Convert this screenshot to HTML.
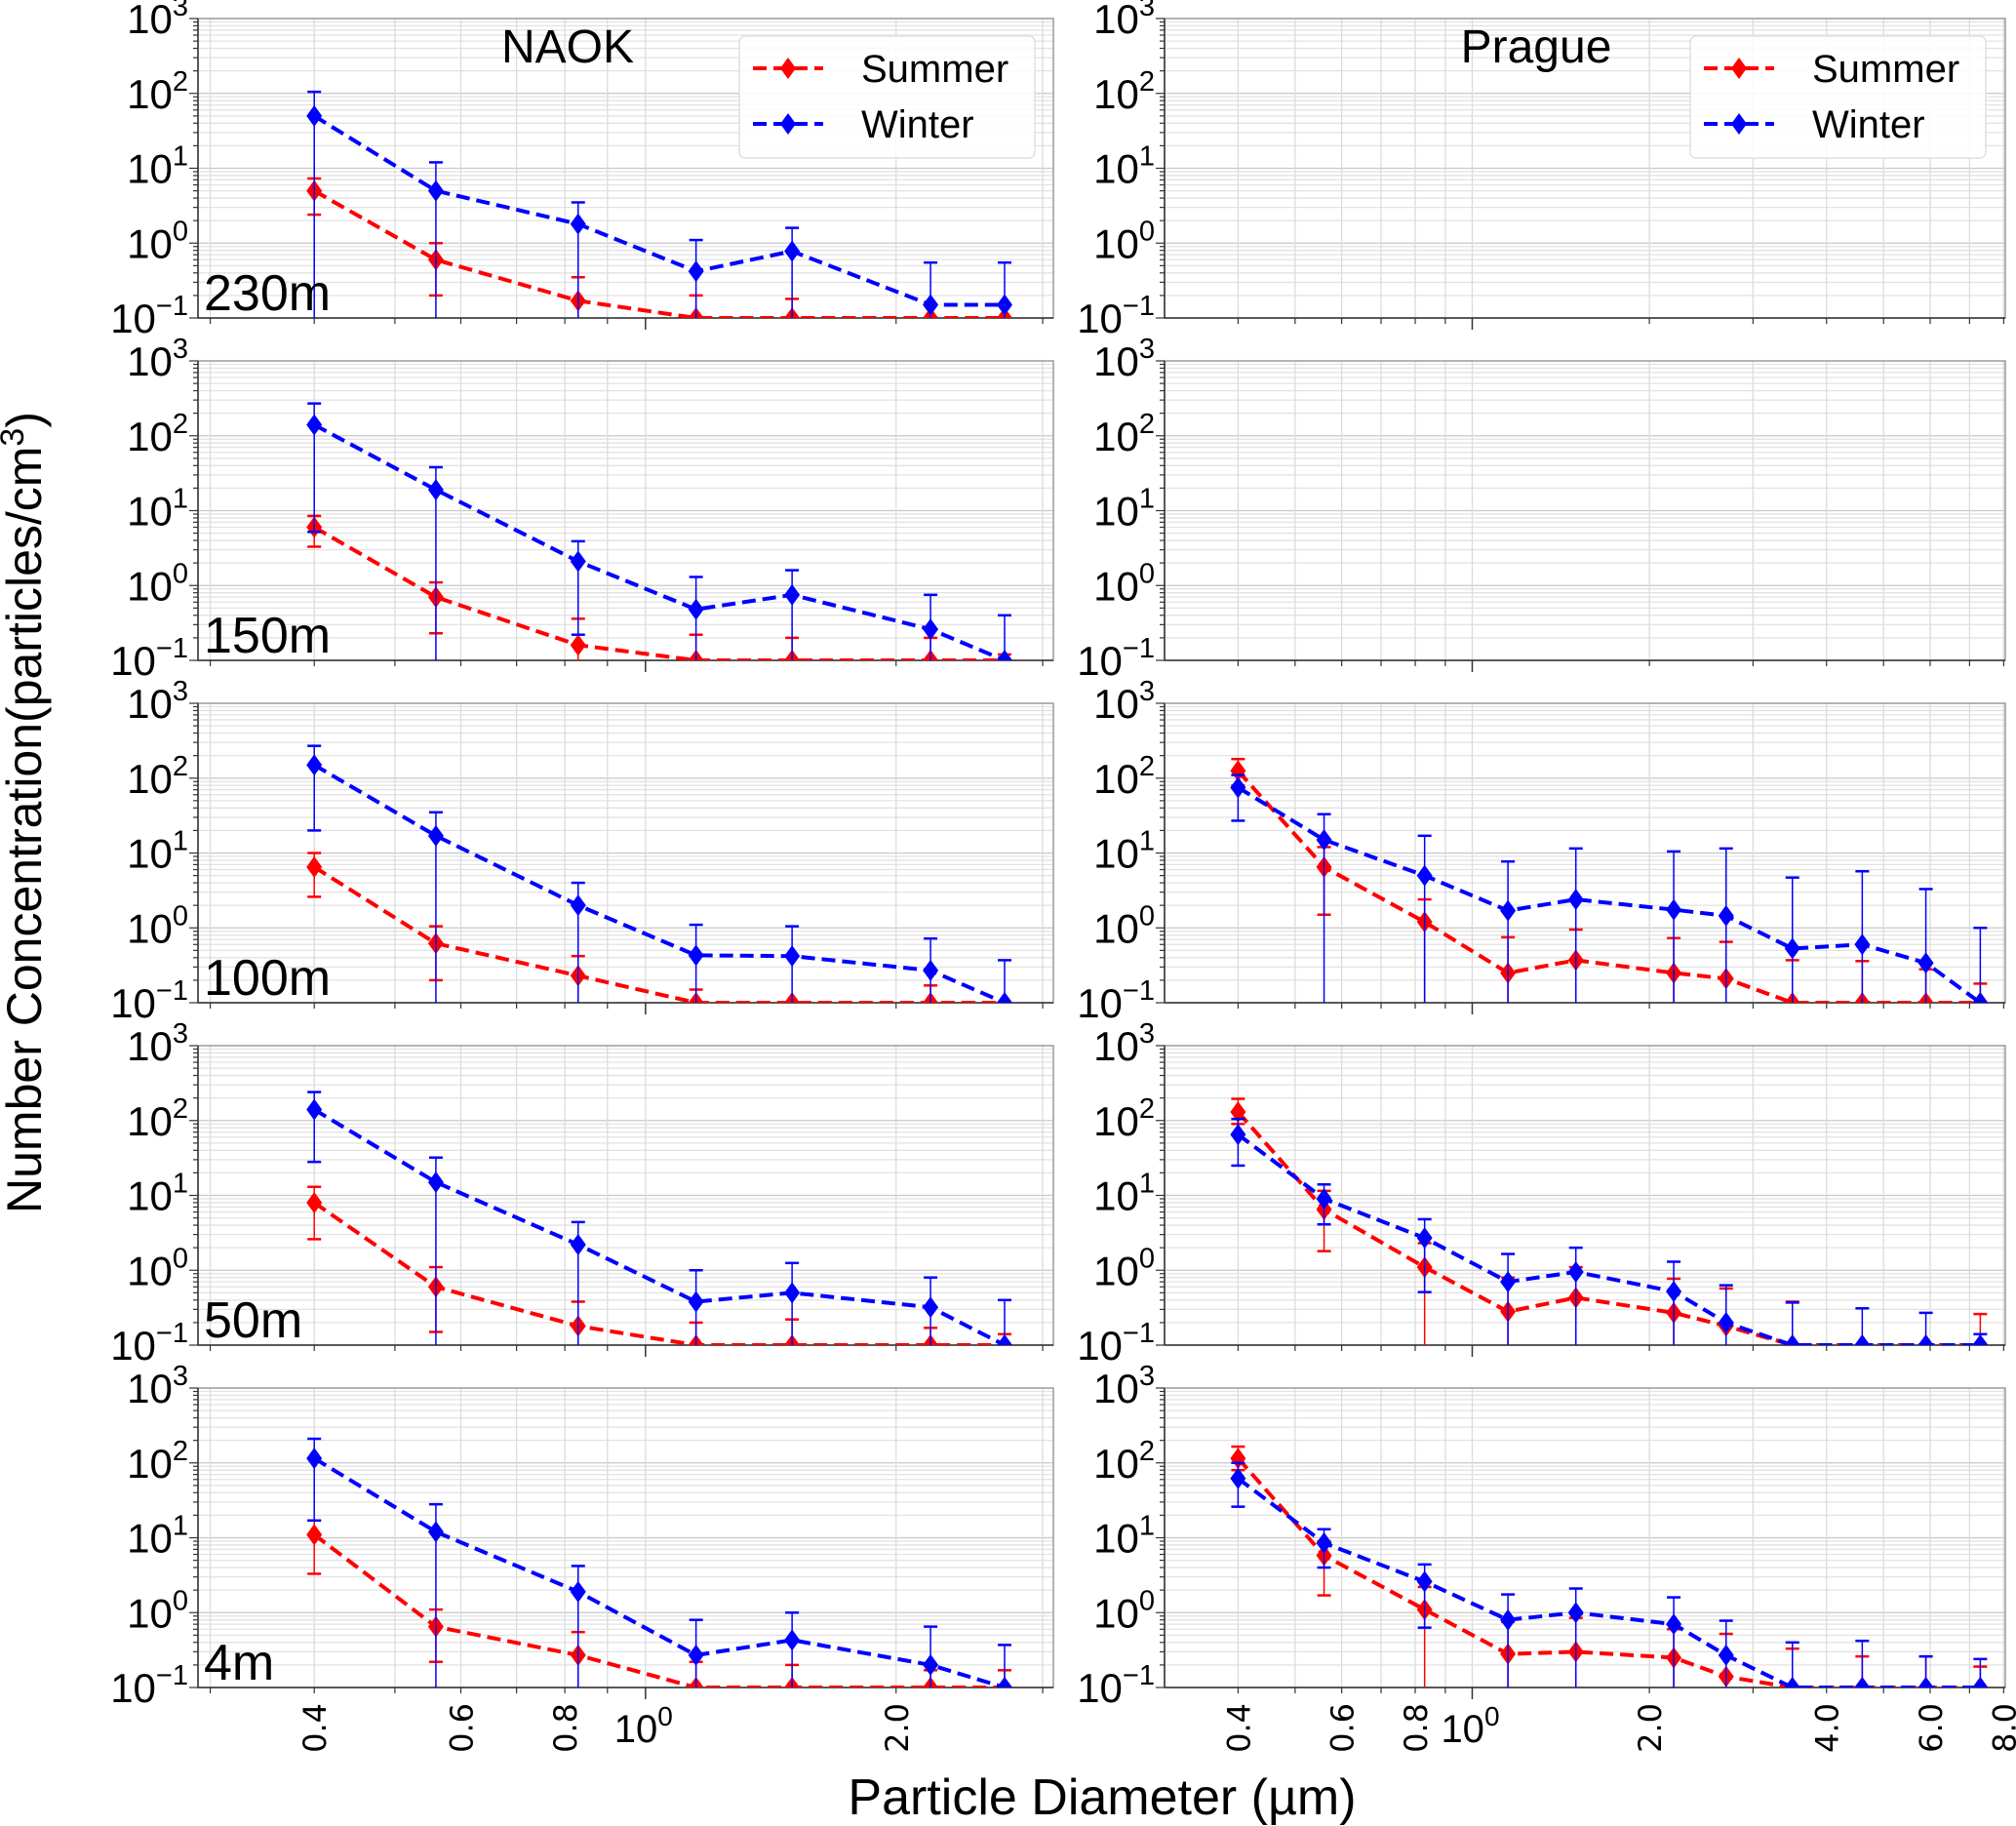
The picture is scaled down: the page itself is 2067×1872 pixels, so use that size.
<!DOCTYPE html>
<html><head><meta charset="utf-8"><style>
html,body{margin:0;padding:0;background:#fff;}
svg{display:block;font-family:"Liberation Sans","DejaVu Sans",sans-serif;}
</style></head><body>
<svg id="chart" width="2067" height="1872" viewBox="0 0 2067 1872" xmlns="http://www.w3.org/2000/svg">
<text x="0" y="0" transform="translate(42,833) rotate(-90)" text-anchor="middle" font-size="50" fill="#000">Number Concentration(particles/cm<tspan font-size="34" dy="-18">3</tspan><tspan dy="18">)</tspan></text>
<text x="1130" y="1860" text-anchor="middle" font-size="52" fill="#000">Particle Diameter (µm)</text>
</svg>
<script>
// ---- data ----
const naokSizes = [0.4, 0.56, 0.83, 1.15, 1.5, 2.2, 2.7];
const pragueSizes = [0.4, 0.56, 0.83, 1.15, 1.5, 2.2, 2.7, 3.5, 4.6, 5.9, 7.3];
const heightLabels = ["230m", "150m", "100m", "50m", "4m"];
const yTickExponents = [3, 2, 1, 0, -1];

const naok230Summer = [5, 0.6, 0.17, 0.1, 0.1, 0.1, 0.1];
const naok230SummerUp = [7.3, 1.0, 0.35, 0.2, 0.18, 0.1, 0.1];
const naok230SummerLo = [2.4, 0.2, 0.1, 0.1, 0.1, 0.1, 0.1];
const naok230Winter = [50, 5, 1.8, 0.42, 0.78, 0.15, 0.15];
const naok230WinterUp = [105, 12, 3.5, 1.1, 1.6, 0.55, 0.55];
const naok230WinterLo = [0.1, 0.1, 0.1, 0.1, 0.1, 0.1, 0.1];

const naok150Summer = [6, 0.7, 0.16, 0.1, 0.1, 0.1, 0.1];
const naok150SummerUp = [8.5, 1.1, 0.36, 0.22, 0.2, 0.2, 0.12];
const naok150SummerLo = [3.3, 0.23, 0.1, 0.1, 0.1, 0.1, 0.1];
const naok150Winter = [140, 19, 2.1, 0.48, 0.75, 0.26, 0.1];
const naok150WinterUp = [270, 38, 3.9, 1.3, 1.6, 0.75, 0.4];
const naok150WinterLo = [5.2, 0.1, 0.22, 0.1, 0.1, 0.1, 0.1];

const naok100Summer = [6.5, 0.62, 0.23, 0.1, 0.1, 0.1, 0.1];
const naok100SummerUp = [10, 1.05, 0.42, 0.15, 0.1, 0.17, 0.1];
const naok100SummerLo = [2.6, 0.2, 0.1, 0.1, 0.1, 0.1, 0.1];
const naok100Winter = [150, 17, 2, 0.43, 0.42, 0.27, 0.1];
const naok100WinterUp = [270, 35, 4, 1.1, 1.05, 0.72, 0.37];
const naok100WinterLo = [20, 0.1, 0.1, 0.1, 0.1, 0.1, 0.1];

const naok50Summer = [8, 0.6, 0.18, 0.1, 0.1, 0.1, 0.1];
const naok50SummerUp = [13, 1.1, 0.38, 0.2, 0.22, 0.17, 0.14];
const naok50SummerLo = [2.6, 0.15, 0.1, 0.1, 0.1, 0.1, 0.1];
const naok50Winter = [140, 15, 2.2, 0.38, 0.5, 0.32, 0.1];
const naok50WinterUp = [240, 32, 4.4, 1, 1.25, 0.8, 0.4];
const naok50WinterLo = [28, 0.1, 0.1, 0.1, 0.1, 0.1, 0.1];

const naok4Summer = [11, 0.65, 0.27, 0.1, 0.1, 0.1, 0.1];
const naok4SummerUp = [17, 1.1, 0.55, 0.22, 0.2, 0.17, 0.17];
const naok4SummerLo = [3.3, 0.22, 0.1, 0.1, 0.1, 0.1, 0.1];
const naok4Winter = [115, 12, 1.9, 0.27, 0.43, 0.2, 0.1];
const naok4WinterUp = [210, 28, 4.2, 0.8, 1, 0.65, 0.37];
const naok4WinterLo = [17, 0.1, 0.1, 0.1, 0.1, 0.1, 0.1];

const prague100Summer = [125, 6.5, 1.2, 0.25, 0.37, 0.25, 0.21, 0.1, 0.1, 0.1, 0.1];
const prague100SummerUp = [180, 12, 2.4, 0.75, 0.95, 0.73, 0.65, 0.37, 0.36, 0.28, 0.18];
const prague100SummerLo = [80, 1.5, 0.1, 0.1, 0.1, 0.1, 0.1, 0.1, 0.1, 0.1, 0.1];
const prague100Winter = [75, 15, 5, 1.7, 2.4, 1.75, 1.45, 0.53, 0.6, 0.34, 0.1];
const prague100WinterUp = [110, 33, 17, 7.7, 11.5, 10.5, 11.5, 4.7, 5.7, 3.3, 1.0];
const prague100WinterLo = [27, 0.1, 0.1, 0.1, 0.1, 0.1, 0.1, 0.1, 0.1, 0.1, 0.1];

const prague50Summer = [130, 6.5, 1.1, 0.28, 0.43, 0.27, 0.18, 0.1, 0.1, 0.1, 0.1];
const prague50SummerUp = [195, 11.5, 2.3, 0.8, 1.1, 0.77, 0.57, 0.38, 0.1, 0.1, 0.26];
const prague50SummerLo = [90, 1.8, 0.1, 0.1, 0.1, 0.1, 0.1, 0.1, 0.1, 0.1, 0.1];
const prague50Winter = [65, 9, 2.7, 0.7, 0.95, 0.52, 0.2, 0.1, 0.1, 0.1, 0.1];
const prague50WinterUp = [105, 14, 4.8, 1.65, 2, 1.3, 0.63, 0.37, 0.31, 0.27, 0.14];
const prague50WinterLo = [25, 4.1, 0.51, 0.1, 0.1, 0.1, 0.1, 0.1, 0.1, 0.1, 0.1];

const prague4Summer = [115, 5.8, 1.1, 0.28, 0.3, 0.25, 0.14, 0.1, 0.1, 0.1, 0.1];
const prague4SummerUp = [165, 9, 2.2, 0.75, 0.85, 0.6, 0.52, 0.33, 0.26, 0.26, 0.19];
const prague4SummerLo = [80, 1.7, 0.1, 0.1, 0.1, 0.1, 0.1, 0.1, 0.1, 0.1, 0.1];
const prague4Winter = [62, 8.5, 2.6, 0.8, 1.0, 0.7, 0.27, 0.1, 0.1, 0.1, 0.1];
const prague4WinterUp = [100, 13, 4.4, 1.75, 2.1, 1.6, 0.78, 0.4, 0.42, 0.26, 0.24];
const prague4WinterLo = [26, 4, 0.63, 0.1, 0.1, 0.1, 0.1, 0.1, 0.1, 0.1, 0.1];

const naokRows = [
  [naok230Summer, naok230SummerUp, naok230SummerLo, naok230Winter, naok230WinterUp, naok230WinterLo],
  [naok150Summer, naok150SummerUp, naok150SummerLo, naok150Winter, naok150WinterUp, naok150WinterLo],
  [naok100Summer, naok100SummerUp, naok100SummerLo, naok100Winter, naok100WinterUp, naok100WinterLo],
  [naok50Summer, naok50SummerUp, naok50SummerLo, naok50Winter, naok50WinterUp, naok50WinterLo],
  [naok4Summer, naok4SummerUp, naok4SummerLo, naok4Winter, naok4WinterUp, naok4WinterLo]
];
const pragueRows = [
  null, null,
  [prague100Summer, prague100SummerUp, prague100SummerLo, prague100Winter, prague100WinterUp, prague100WinterLo],
  [prague50Summer, prague50SummerUp, prague50SummerLo, prague50Winter, prague50WinterUp, prague50WinterLo],
  [prague4Summer, prague4SummerUp, prague4SummerLo, prague4Winter, prague4WinterUp, prague4WinterLo]
];
const naokXTicks = [0.4, 0.6, 0.8, 2.0];
const pragueXTicks = [0.4, 0.6, 0.8, 2.0, 4.0, 6.0, 8.0];

// ---- drawing ----
const NS = "http://www.w3.org/2000/svg";
const svg = document.getElementById("chart");
function mk(tag, attrs, parent) {
  const e = document.createElementNS(NS, tag);
  for (const k in attrs) e.setAttribute(k, attrs[k]);
  (parent || svg).appendChild(e);
  return e;
}
const panels = [
  {x0: 203, x1: 1080, xmin: 0.29, xmax: 3.09, sizes: naokSizes, rows: naokRows, ticks: naokXTicks, name: "naok", title: "NAOK"},
  {x0: 1194, x1: 2056, xmin: 0.3, xmax: 8.05, sizes: pragueSizes, rows: pragueRows, ticks: pragueXTicks, name: "prague", title: "Prague"}
];
const rowTop = [19, 370, 721, 1072, 1423];
const H = 307;
const defs = mk("defs", {});

panels.forEach((p, pi) => {
  const xs = v => p.x0 + (Math.log10(v) - Math.log10(p.xmin)) / (Math.log10(p.xmax) - Math.log10(p.xmin)) * (p.x1 - p.x0);
  rowTop.forEach((top, ri) => {
    const bot = top + H;
    const ys = v => bot - (Math.log10(v) + 1) / 4 * H;
    const g = mk("g", {});
    
    
    const cid = "clip" + pi + ri;
    const cp = mk("clipPath", {id: cid}, defs);
    mk("rect", {x: p.x0, y: top, width: p.x1 - p.x0, height: H}, cp);
    const grid = mk("g", {stroke: "#dcdcdc", "stroke-width": 1.3}, g);
    for (let e = -1; e < 3; e++) for (let m = 1; m < 10; m++) {
      const v = m * Math.pow(10, e); if (v <= 0.1) continue;
      const y = ys(v);
      mk("line", {x1: p.x0, x2: p.x1, y1: y, y2: y, stroke: m === 1 ? "#c8c8c8" : "#e2e2e2"}, grid);
    }
    for (let e = -1; e < 1; e++) for (let m = 1; m < 10; m++) {
      const v = m * Math.pow(10, e);
      if (v <= p.xmin || v >= p.xmax) continue;
      const x = xs(v);
      mk("line", {x1: x, x2: x, y1: top, y2: bot}, grid);
    }
    mk("rect", {x: p.x0, y: top, width: p.x1 - p.x0, height: H, fill: "none", stroke: "#9a9a9a", "stroke-width": 1.5}, g);
    mk("line", {x1: p.x0, x2: p.x0, y1: top, y2: bot, stroke: "#333", "stroke-width": 1.5}, g);
    mk("line", {x1: p.x0, x2: p.x1, y1: bot, y2: bot, stroke: "#333", "stroke-width": 1.5}, g);
    for (let e = -1; e <= 3; e++) for (let m = 1; m < 10; m++) {
      const v = m * Math.pow(10, e); if (v > 1000) continue;
      const y = ys(v);
      mk("line", {x1: p.x0 - (m === 1 ? 9 : 5), x2: p.x0, y1: y, y2: y, stroke: "#333", "stroke-width": 1.2}, g);
    }
    yTickExponents.forEach(ex => {
      const t = mk("text", {x: p.x0 - 10, y: ys(Math.pow(10, ex)) + 15, "text-anchor": "end", "font-size": 42, fill: "#000"}, g);
      
      
      t.appendChild(document.createTextNode("10"));
      const s = mk("tspan", {"font-size": 29, dy: -18}, t);
      s.textContent = ex < 0 ? "\u2212" + Math.abs(ex) : String(ex);
    });
    mk("line", {x1: xs(1), x2: xs(1), y1: bot, y2: bot + 12, stroke: "#333", "stroke-width": 1.5}, g);
    [0.3,0.4,0.5,0.6,0.7,0.8,0.9,2,3,4,5,6,7,8].forEach(v => {
      if (v <= p.xmin || v >= p.xmax) return;
      mk("line", {x1: xs(v), x2: xs(v), y1: bot, y2: bot + 6, stroke: "#333", "stroke-width": 1.2}, g);
    });
    if (ri === 4) {
      p.ticks.forEach(v => {
        const x = xs(v);
        const t = mk("text", {x: 0, y: 0, transform: `translate(${x + 12},${bot + 16}) rotate(-90)`, "text-anchor": "end", "font-size": 32, fill: "#000", "font-family": "DejaVu Sans, sans-serif"}, g);
        
        
        t.textContent = v.toFixed(1);
      });
      const t = mk("text", {x: xs(1) - 2, y: bot + 56, "text-anchor": "middle", "font-size": 40, fill: "#000"}, g);
      
      
      t.appendChild(document.createTextNode("10"));
      const s = mk("tspan", {"font-size": 28, dy: -17}, t); s.textContent = "0";
    }
    const d = p.rows[ri];
    if (d) {
      const dg = mk("g", {"clip-path": `url(#${cid})`}, g);
      [[0, "#ff0000", "summer"], [3, "#0000ff", "winter"]].forEach(([o, col, nm]) => {
        const vals = d[o], up = d[o + 1], lo = d[o + 2];
        const sg = mk("g", {}, dg);
        
        
        vals.forEach((v, i) => {
          const x = xs(p.sizes[i]);
          const yu = ys(up[i]), yl = ys(Math.max(lo[i], 0.1));
          mk("line", {x1: x, x2: x, y1: yu, y2: yl, stroke: col, "stroke-width": 1.5}, sg);
          mk("line", {x1: x - 7, x2: x + 7, y1: yu, y2: yu, stroke: col, "stroke-width": 2.5}, sg);
          if (lo[i] > 0.1) mk("line", {x1: x - 7, x2: x + 7, y1: yl, y2: yl, stroke: col, "stroke-width": 2.5}, sg);
        });
        const pts = vals.map((v, i) => xs(p.sizes[i]) + "," + ys(v)).join(" ");
        const pl = mk("polyline", {points: pts, fill: "none", stroke: col, "stroke-width": 4, "stroke-dasharray": "14,7"}, sg);
        
        
        vals.forEach((v, i) => {
          const x = xs(p.sizes[i]), y = ys(v);
          const m = mk("polygon", {points: `${x},${y - 11} ${x + 8},${y} ${x},${y + 11} ${x - 8},${y}`, fill: col}, sg);
          
          
        });
      });
    }
    if (pi === 0) {
      const t = mk("text", {x: 209, y: bot - 8, "font-size": 52, fill: "#000"}, g);
      
      
      t.textContent = heightLabels[ri];
    }
    if (ri === 0) {
      const t = mk("text", {x: (pi === 0 ? 582 : 1575), y: 64, "text-anchor": "middle", "font-size": 48, fill: "#000"}, g);
      
      
      t.textContent = p.title;
      const lx = pi === 0 ? 758 : 1733;
      const lg = mk("g", {}, g);
      
      
      mk("rect", {x: lx, y: 37, width: 303, height: 125, rx: 6, fill: "#fff", "fill-opacity": 0.85, stroke: "#e0e0e0", "stroke-width": 1.5}, lg);
      [["Summer", "#ff0000", 70], ["Winter", "#0000ff", 127]].forEach(([lab, col, yy]) => {
        const e = mk("g", {}, lg);
        
        
        mk("line", {x1: lx + 14, x2: lx + 86, y1: yy, y2: yy, stroke: col, "stroke-width": 4, "stroke-dasharray": "14,7"}, e);
        const cx = lx + 50;
        mk("polygon", {points: `${cx},${yy - 11} ${cx + 8},${yy} ${cx},${yy + 11} ${cx - 8},${yy}`, fill: col}, e);
        const t = mk("text", {x: lx + 125, y: yy + 14, "font-size": 40, fill: "#000"}, e);
        t.textContent = lab;
      });
    }
  });
});
</script>
</body></html>
